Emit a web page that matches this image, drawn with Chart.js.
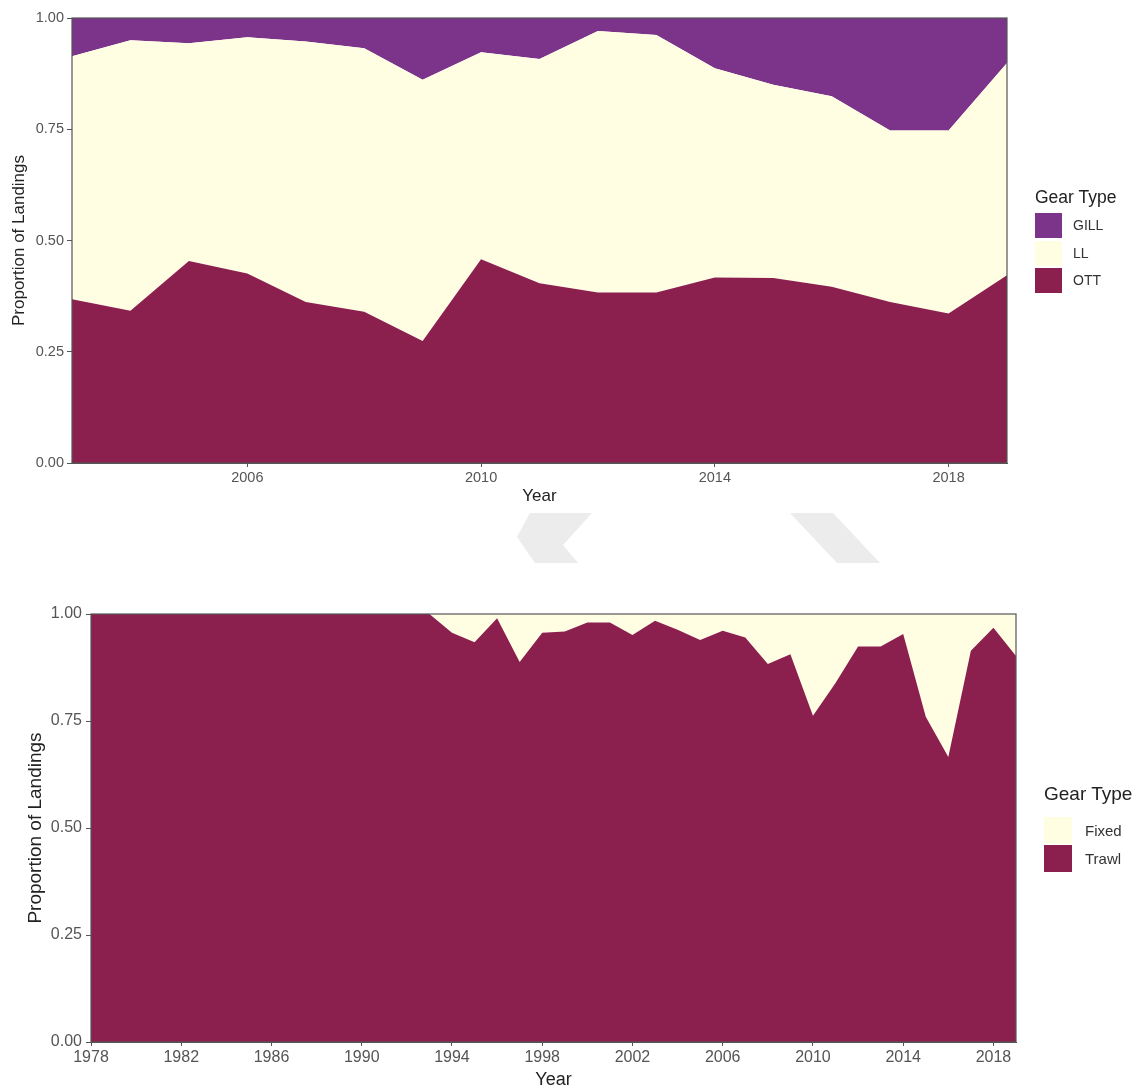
<!DOCTYPE html>
<html>
<head>
<meta charset="utf-8">
<script src="https://cdn.jsdelivr.net/npm/chart.js@4/dist/chart.umd.min.js"></script>
<style>
html,body{margin:0;padding:0;background:#fff;}
body{width:1138px;height:1091px;position:relative;overflow:hidden;font-family:"Liberation Sans",Arial,sans-serif;}
canvas{position:absolute;left:0;}
#c1{top:0;}
#c2{top:595px;}
.lg-title{position:absolute;color:#222;white-space:nowrap;}
.lg-key{position:absolute;}
.lg-label{position:absolute;color:#333;white-space:nowrap;}
#wm{position:absolute;left:0;top:0;}
</style>
</head>
<body>
<svg id="wm" width="1138" height="600" aria-hidden="true">
  <polygon points="530,513 592,513 563,545 578,563 535,563 517,537" fill="#ececec"/>
  <polygon points="790,513 833,513 880,563 837,563" fill="#ececec"/>
</svg>
<canvas id="c1" width="1138" height="510"></canvas>
<canvas id="c2" width="1138" height="496"></canvas>
<div id="lg1"></div>
<div id="lg2"></div>
<script>
// ---------- DATA ----------
const topYears = [2003,2004,2005,2006,2007,2008,2009,2010,2011,2012,2013,2014,2015,2016,2017,2018,2019];
const ottShare  = [0.368,0.342,0.454,0.426,0.362,0.340,0.274,0.458,0.404,0.383,0.383,0.417,0.416,0.396,0.362,0.336,0.422];
const llShare   = [0.546,0.608,0.489,0.531,0.585,0.592,0.587,0.465,0.504,0.588,0.579,0.470,0.434,0.428,0.385,0.411,0.477];
const gillShare = [0.086,0.050,0.057,0.043,0.053,0.068,0.139,0.077,0.092,0.029,0.038,0.113,0.150,0.176,0.253,0.253,0.101];
const topXTicks = [2006,2010,2014,2018];
const topSeriesNames = ['GILL','LL','OTT'];

const bottomYears = [1978,1979,1980,1981,1982,1983,1984,1985,1986,1987,1988,1989,1990,1991,1992,1993,
  1994,1995,1996,1997,1998,1999,2000,2001,2002,2003,2004,2005,2006,2007,2008,2009,2010,2011,2012,2013,2014,2015,2016,2017,2018,2019];
const trawlShare = [1,1,1,1,1,1,1,1,1,1,1,1,1,1,1,1,
  0.956,0.934,0.990,0.888,0.956,0.959,0.980,0.980,0.951,0.984,0.963,0.939,0.961,0.945,0.883,0.906,0.762,0.839,0.924,0.924,0.953,0.760,0.666,0.914,0.968,0.902];
const fixedShare = [0,0,0,0,0,0,0,0,0,0,0,0,0,0,0,0,
  0.044,0.066,0.010,0.112,0.044,0.041,0.020,0.020,0.049,0.016,0.037,0.061,0.039,0.055,0.117,0.094,0.238,0.161,0.076,0.076,0.047,0.240,0.334,0.086,0.032,0.098];
const bottomXTicks = [1978,1982,1986,1990,1994,1998,2002,2006,2010,2014,2018];
const bottomSeriesNames = ['Fixed','Trawl'];

const yTicks = [0,0.25,0.5,0.75,1];

// ---------- STYLE ----------
const COL_GILL = '#7B348A';
const COL_LL = '#FFFDE2';
const COL_OTT = '#8B1F4E';
const FONT = '"Liberation Sans", Arial, sans-serif';
const AXIS_COL = '#555';

const frame = {
  id: 'frame',
  afterDatasetsDraw(chart) {
    const {ctx, chartArea: a} = chart;
    ctx.save();
    ctx.strokeStyle = AXIS_COL;
    ctx.lineWidth = 1.2;
    ctx.strokeRect(a.left, a.top, a.right - a.left, a.bottom - a.top);
    ctx.restore();
  }
};

function pts(xs, ys) { return xs.map((x, i) => ({x: x, y: ys[i]})); }

function makeOptions(c) {
  return {
    responsive: false,
    animation: false,
    devicePixelRatio: 1,
    layout: {padding: {top: c.padTop, right: c.padRight, left: 0, bottom: 0}},
    plugins: {legend: {display: false}, tooltip: {enabled: false}},
    elements: {point: {radius: 0}, line: {borderWidth: 0, tension: 0}},
    scales: {
      x: {
        type: 'linear', min: c.xMin, max: c.xMax,
        afterBuildTicks: s => { s.ticks = c.xTicks.map(v => ({value: v})); },
        afterFit: s => { s.height = c.xHeight; },
        ticks: {autoSkip: false, maxRotation: 0, color: AXIS_COL, padding: c.xTickPad,
          font: {family: FONT, size: c.tickSize}, callback: v => String(v)},
        grid: {display: true, drawOnChartArea: false, drawTicks: true, tickLength: 4, color: AXIS_COL},
        border: {display: true, color: AXIS_COL},
        title: {display: true, text: 'Year', color: '#222', font: {family: FONT, size: c.xTitleSize},
          padding: {top: 0, bottom: c.xTitlePad}}
      },
      y: {
        stacked: true, min: 0, max: 1,
        afterBuildTicks: s => { s.ticks = yTicks.map(v => ({value: v})); },
        afterFit: s => { s.width = c.yWidth; },
        ticks: {color: AXIS_COL, padding: c.yTickPad, font: {family: FONT, size: c.yTickSize},
          callback: v => Number(v).toFixed(2)},
        grid: {display: true, drawOnChartArea: false, drawTicks: true, tickLength: 5, color: AXIS_COL},
        border: {display: true, color: AXIS_COL},
        title: {display: true, text: 'Proportion of Landings', color: '#222',
          font: {family: FONT, size: c.yTitleSize}, padding: {top: c.yTitlePad, bottom: 0}}
      }
    }
  };
}

// ---------- TOP CHART ----------
new Chart(document.getElementById('c1'), {
  type: 'line',
  data: {
    datasets: [
      {label: 'OTT', data: pts(topYears, ottShare), backgroundColor: COL_OTT, borderColor: COL_OTT, fill: 'origin'},
      {label: 'LL', data: pts(topYears, llShare), backgroundColor: COL_LL, borderColor: COL_LL, fill: '-1'},
      {label: 'GILL', data: pts(topYears, gillShare), backgroundColor: COL_GILL, borderColor: COL_GILL, fill: '-1'}
    ]
  },
  options: makeOptions({
    padTop: 18, padRight: 131, xMin: 2003, xMax: 2019, xTicks: topXTicks, xHeight: 47,
    tickSize: 14.5, xTickPad: 2, xTitleSize: 17, xTitlePad: 3,
    yWidth: 72, yTickPad: 3, yTickSize: 14.5, yTitleSize: 17, yTitlePad: 9
  }),
  plugins: [frame]
});

// ---------- BOTTOM CHART ----------
new Chart(document.getElementById('c2'), {
  type: 'line',
  data: {
    datasets: [
      {label: 'Trawl', data: pts(bottomYears, trawlShare), backgroundColor: COL_OTT, borderColor: COL_OTT, fill: 'origin'},
      {label: 'Fixed', data: pts(bottomYears, fixedShare), backgroundColor: COL_LL, borderColor: COL_LL, fill: '-1'}
    ]
  },
  options: makeOptions({
    padTop: 19, padRight: 122, xMin: 1978, xMax: 2019, xTicks: bottomXTicks, xHeight: 49,
    tickSize: 16, xTickPad: 2, xTitleSize: 18, xTitlePad: 0,
    yWidth: 91, yTickPad: 4, yTickSize: 16, yTitleSize: 19, yTitlePad: 24
  }),
  plugins: [frame]
});

// ---------- LEGENDS ----------
function buildLegend(el, cfg) {
  const t = document.createElement('div');
  t.className = 'lg-title';
  t.textContent = 'Gear Type';
  t.style.left = cfg.x + 'px';
  t.style.top = cfg.titleTop + 'px';
  t.style.fontSize = cfg.titleSize + 'px';
  t.style.lineHeight = cfg.titleLH + 'px';
  el.appendChild(t);
  cfg.names.forEach((n, i) => {
    const k = document.createElement('div');
    k.className = 'lg-key';
    k.style.left = cfg.x + 'px';
    k.style.top = (cfg.keyTop + i * cfg.rowH) + 'px';
    k.style.width = cfg.keyW + 'px';
    k.style.height = cfg.keyH + 'px';
    k.style.background = cfg.colors[i];
    el.appendChild(k);
    const l = document.createElement('div');
    l.className = 'lg-label';
    l.textContent = n;
    l.style.left = cfg.labelX + 'px';
    l.style.top = (cfg.keyTop + i * cfg.rowH) + 'px';
    l.style.height = cfg.keyH + 'px';
    l.style.lineHeight = cfg.keyH + 'px';
    l.style.fontSize = cfg.labelSize + 'px';
    el.appendChild(l);
  });
}
buildLegend(document.getElementById('lg1'), {
  x: 1035, titleTop: 186, titleSize: 17.5, titleLH: 22,
  keyTop: 213, rowH: 27.5, keyW: 27, keyH: 25, labelX: 1073, labelSize: 14,
  names: topSeriesNames, colors: [COL_GILL, COL_LL, COL_OTT]
});
buildLegend(document.getElementById('lg2'), {
  x: 1044, titleTop: 782, titleSize: 19, titleLH: 23,
  keyTop: 817, rowH: 27.5, keyW: 28, keyH: 27, labelX: 1085, labelSize: 15,
  names: bottomSeriesNames, colors: [COL_LL, COL_OTT]
});
</script>
</body>
</html>
